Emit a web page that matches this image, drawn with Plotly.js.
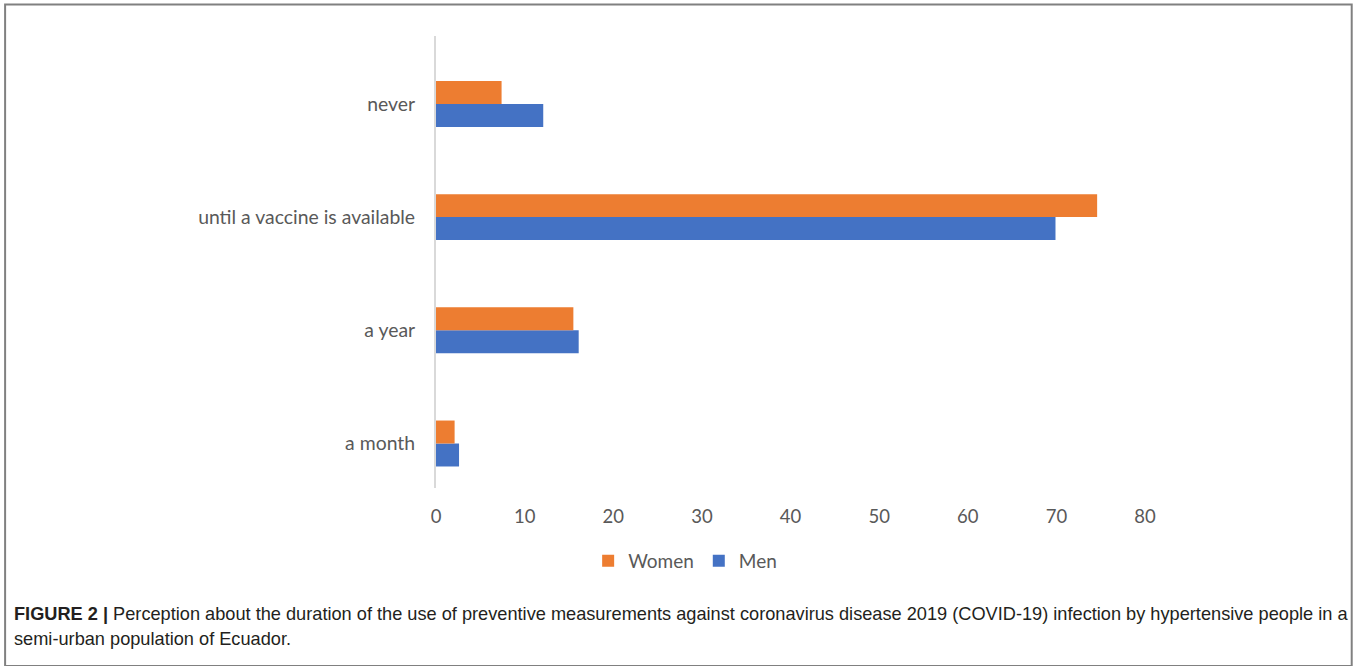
<!DOCTYPE html>
<html>
<head>
<meta charset="utf-8">
<script src="https://cdn.plot.ly/plotly-3.0.1.min.js"></script>
<style>
html,body{margin:0;padding:0;background:#fff;}
#chart{width:1357px;height:666px;}
</style>
</head>
<body>
<div id="chart"></div>
<script>
const categories = ["a month", "a year", "until a vaccine is available", "never"];
const women = [2.1, 15.5, 74.6, 7.4];
const men = [2.6, 16.1, 69.9, 12.1];
const xTicks = [0, 10, 20, 30, 40, 50, 60, 70, 80];
const seriesNames = ["Women", "Men"];
const captionBold = "FIGURE 2 |";
const captionLine1 = " Perception about the duration of the use of preventive measurements against coronavirus disease 2019 (COVID-19) infection by hypertensive people in a";
const captionLine2 = "semi-urban population of Ecuador.";

const W = 1357, H = 666;
const L = 435.5, R = 1145.5, T = 36, B = 488;
const px = x => (x - L) / (R - L);
const py = y => (B - y) / (B - T);

const traces = [
  {type: 'bar', orientation: 'h', name: seriesNames[1], y: categories, x: men,
   marker: {color: '#4472C4'}},
  {type: 'bar', orientation: 'h', name: seriesNames[0], y: categories, x: women,
   marker: {color: '#ED7D31'}}
];

const layout = {
  width: W, height: H,
  margin: {l: L, r: W - R, t: T, b: H - B, pad: 0},
  paper_bgcolor: '#ffffff', plot_bgcolor: '#ffffff',
  barmode: 'group', bargap: 0.594, bargroupgap: 0,
  font: {family: 'Lato, "Open Sans", sans-serif', color: '#595959', size: 19},
  xaxis: {range: [0, 80], tickvals: xTicks, ticktext: xTicks.map(String),
    showgrid: false, zeroline: false, showline: false, ticks: '',
    ticklabelstandoff: 15, tickfont: {size: 18.5, color: '#595959'}, fixedrange: true},
  yaxis: {type: 'category', categoryorder: 'array', categoryarray: categories,
    range: [-0.393, 3.60], showgrid: false, zeroline: false,
    showline: true, linecolor: '#d9d9d9', linewidth: 2, ticks: '',
    ticklabelstandoff: 15, tickfont: {size: 19.4, color: '#595959'}, fixedrange: true},
  showlegend: true,
  legend: {orientation: 'h', traceorder: 'reversed', x: px(685), xanchor: 'center',
    y: py(561), yanchor: 'middle', font: {size: 19, color: '#595959'},
    itemwidth: 30, bgcolor: 'rgba(0,0,0,0)'},
  shapes: [
    {type: 'rect', xref: 'paper', yref: 'paper', x0: px(4), x1: px(1352.5),
     y0: py(666), y1: py(4.5), line: {color: '#808080', width: 2}, fillcolor: 'rgba(0,0,0,0)'}
  ],
  annotations: [
    {xref: 'paper', yref: 'paper', x: px(11), y: py(614), xanchor: 'left', yanchor: 'middle',
     showarrow: false, align: 'left',
     text: '<b>' + captionBold + '</b>' + captionLine1,
     font: {family: '"Liberation Sans", Arial, sans-serif', size: 18.2, color: '#231f20'}},
    {xref: 'paper', yref: 'paper', x: px(11), y: py(639), xanchor: 'left', yanchor: 'middle',
     showarrow: false, align: 'left', text: captionLine2,
     font: {family: '"Liberation Sans", Arial, sans-serif', size: 18.2, color: '#231f20'}}
  ]
};

Plotly.newPlot('chart', traces, layout, {displayModeBar: false, staticPlot: true});
</script>
</body>
</html>
